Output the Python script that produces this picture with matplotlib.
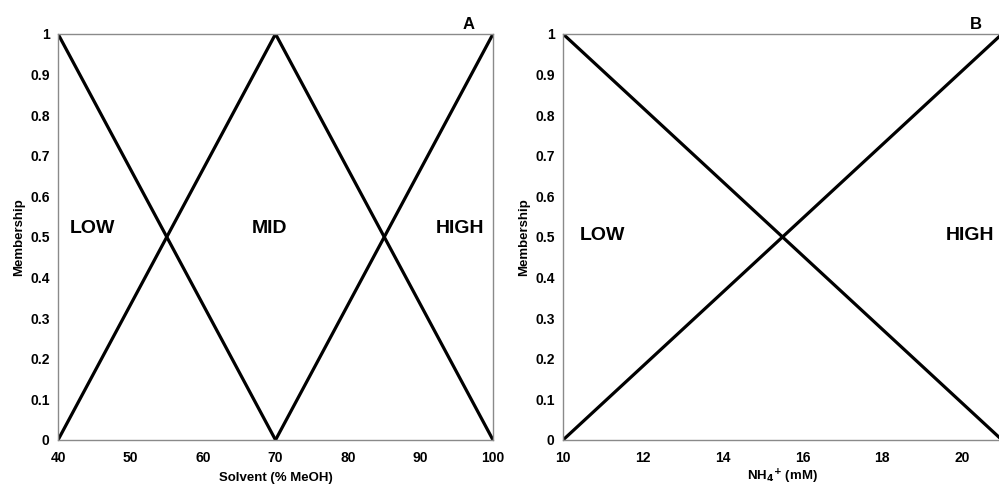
import numpy as np
import matplotlib.pyplot as plt

plt.rcParams['font.family'] = ['Liberation Sans', 'DejaVu Sans']
plt.rcParams['font.weight'] = 'bold'

# Panel A - solvent membership functions
solvent_low_x = [40, 70]
solvent_low_y = [1, 0]
solvent_mid_x = [40, 70, 100]
solvent_mid_y = [0, 1, 0]
solvent_high_x = [70, 100]
solvent_high_y = [0, 1]
solvent_ticks = [40, 50, 60, 70, 80, 90, 100]

# Panel B - ammonium membership functions
nh4_low_x = [10, 21]
nh4_low_y = [1, 0]
nh4_high_x = [10, 21]
nh4_high_y = [0, 1]
nh4_ticks = [10, 12, 14, 16, 18, 20]

y_ticks = [0, 0.1, 0.2, 0.3, 0.4, 0.5, 0.6, 0.7, 0.8, 0.9, 1]
y_labels = ['0', '0.1', '0.2', '0.3', '0.4', '0.5', '0.6', '0.7', '0.8', '0.9', '1']

fig = plt.figure(figsize=(9.99, 4.86), dpi=100)
axA = fig.add_axes([0.0581, 0.0947, 0.4354, 0.8354])
axB = fig.add_axes([0.5636, 0.0947, 0.4394, 0.8354])


def style_axis(ax):
    for s in ax.spines.values():
        s.set_color('#8a8a8a')
        s.set_linewidth(1.0)
    ax.tick_params(length=0, labelsize=10)
    ax.tick_params(axis='y', pad=6)
    ax.tick_params(axis='x', pad=8)
    ax.set_ylim(0, 1)
    ax.set_yticks(y_ticks)
    ax.set_yticklabels(y_labels, fontweight='bold')
    ax.set_ylabel('Membership', fontsize=9.5, fontweight='bold', labelpad=4)


lw = 2.3
axA.plot(solvent_low_x, solvent_low_y, color='black', lw=lw, solid_capstyle='butt')
axA.plot(solvent_mid_x, solvent_mid_y, color='black', lw=lw, solid_capstyle='butt')
axA.plot(solvent_high_x, solvent_high_y, color='black', lw=lw, solid_capstyle='butt')
axA.set_xlim(40, 100)
axA.set_xticks(solvent_ticks)
axA.set_xticklabels([str(t) for t in solvent_ticks], fontweight='bold')
axA.set_xlabel('Solvent (% MeOH)', fontsize=9.5, fontweight='bold', labelpad=5)
style_axis(axA)
axA.text(44.8, 0.522, 'LOW', fontsize=14, fontweight='bold', ha='center', va='center')
axA.text(69.2, 0.522, 'MID', fontsize=14, fontweight='bold', ha='center', va='center')
axA.text(95.4, 0.522, 'HIGH', fontsize=14, fontweight='bold', ha='center', va='center')
axA.text(96.6, 1.005, 'A', fontsize=12, fontweight='bold', ha='center', va='bottom')

axB.plot(nh4_low_x, nh4_low_y, color='black', lw=lw, solid_capstyle='butt')
axB.plot(nh4_high_x, nh4_high_y, color='black', lw=lw, solid_capstyle='butt')
axB.set_xlim(10, 21)
axB.set_xticks(nh4_ticks)
axB.set_xticklabels([str(t) for t in nh4_ticks], fontweight='bold')
axB.set_xlabel(r'NH$_{\mathbf{4}}$$^{\mathbf{+}}$ (mM)', fontsize=9.5, fontweight='bold', labelpad=2)
style_axis(axB)
axB.text(10.98, 0.503, 'LOW', fontsize=14, fontweight='bold', ha='center', va='center')
axB.text(20.2, 0.503, 'HIGH', fontsize=14, fontweight='bold', ha='center', va='center')
axB.text(20.35, 1.005, 'B', fontsize=12, fontweight='bold', ha='center', va='bottom')

fig.savefig('out.png', dpi=100)
